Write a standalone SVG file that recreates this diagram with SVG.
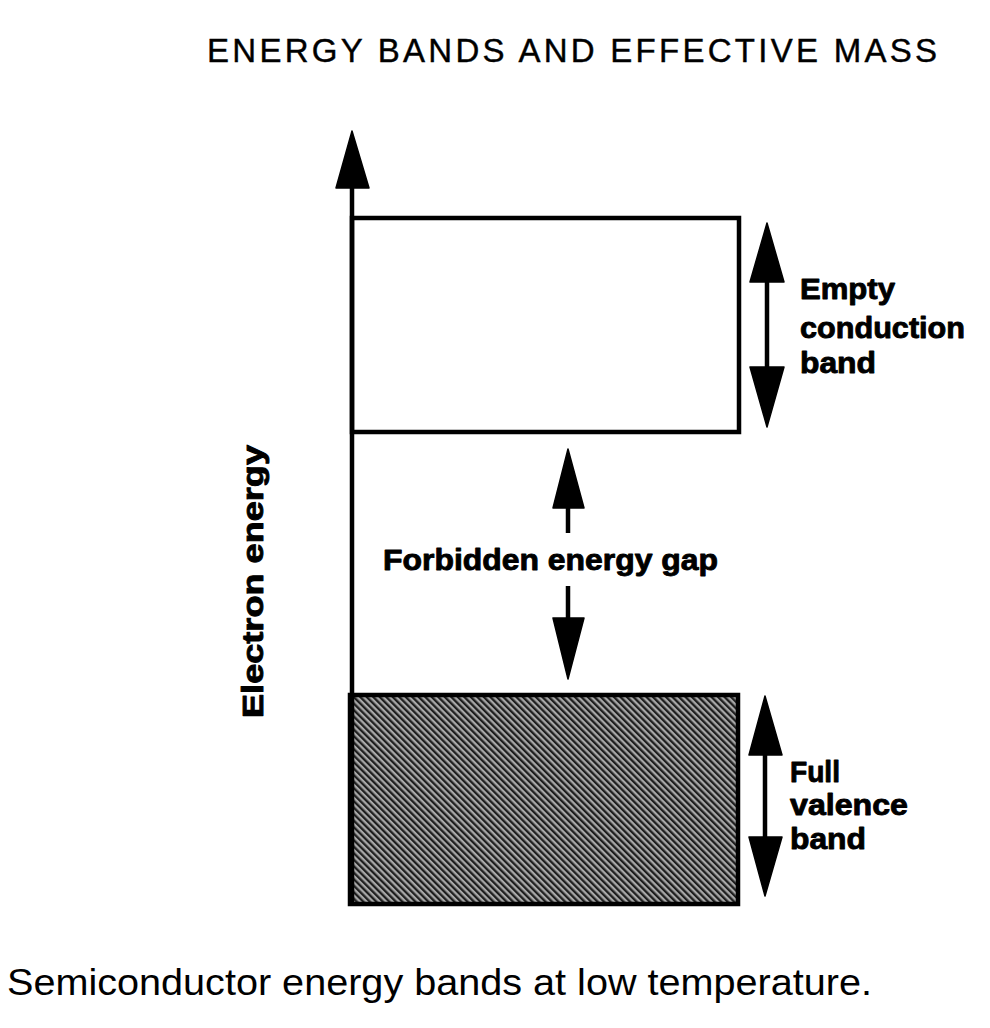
<svg xmlns="http://www.w3.org/2000/svg" width="990" height="1028" viewBox="0 0 990 1028">
  <style>
    .title { font-family: "Liberation Sans", Arial, sans-serif; font-size: 33px; fill: #000; stroke: #000; stroke-width: 0.4; }
    .lbl { font-family: "Liberation Sans", Arial, sans-serif; font-weight: bold; font-size: 30px; fill: #000; stroke: #000; stroke-width: 0.9; stroke-linejoin: round; }
    .cap { font-family: "Liberation Sans", Arial, sans-serif; font-size: 37px; fill: #000; }
    .band { stroke: #000; stroke-width: 4.5; }
    .shaft { stroke: #000; stroke-width: 4.5; fill: none; }
    .head { fill: #000; stroke: #000; stroke-width: 1.5; stroke-linejoin: round; }
  </style>
  <defs>
    <pattern id="hatch" width="4.6" height="20" patternUnits="userSpaceOnUse" patternTransform="rotate(-45)">
      <rect width="4.6" height="20" fill="#a8a8a8"/>
      <rect width="2.3" height="20" fill="#1e1e1e"/>
    </pattern>
  </defs>
  <rect width="990" height="1028" fill="#fff"/>

  <text class="title" x="207" y="62" textLength="730" lengthAdjust="spacing">ENERGY BANDS AND EFFECTIVE MASS</text>

  <g id="conduction-band">
    <rect class="band" x="352" y="218" width="387" height="214" fill="#fff"/>
  </g>
  <g id="valence-band">
    <rect class="band" x="350" y="695" width="388" height="209" fill="url(#hatch)"/>
  </g>

  <g id="connectors">
    <line class="shaft" x1="352" y1="905" x2="352" y2="180"/>
    <polygon class="head" points="352,131 336,188 369,188"/>
    <line class="shaft" x1="767" y1="270" x2="767" y2="380"/>
    <polygon class="head" points="767,223 750,282 784,282"/>
    <polygon class="head" points="767,427 750,367 784,367"/>
    <line class="shaft" x1="568" y1="495" x2="568" y2="533"/>
    <polygon class="head" points="568,449 553,508 584,508"/>
    <line class="shaft" x1="568" y1="586" x2="568" y2="630"/>
    <polygon class="head" points="568,679 553,618 584,618"/>
    <line class="shaft" x1="765" y1="745" x2="765" y2="850"/>
    <polygon class="head" points="765,696 749,755 782,755"/>
    <polygon class="head" points="765,896 749,837 782,837"/>
  </g>

  <g id="label-conduction">
    <text class="lbl" x="800" y="299" textLength="95" lengthAdjust="spacingAndGlyphs">Empty</text>
    <text class="lbl" x="800" y="338" textLength="165" lengthAdjust="spacingAndGlyphs">conduction</text>
    <text class="lbl" x="800" y="373" textLength="76" lengthAdjust="spacingAndGlyphs">band</text>
  </g>
  <g id="label-gap">
    <text class="lbl" x="383" y="570" textLength="335" lengthAdjust="spacingAndGlyphs">Forbidden energy gap</text>
  </g>
  <g id="label-valence">
    <text class="lbl" x="790" y="782" textLength="50" lengthAdjust="spacingAndGlyphs">Full</text>
    <text class="lbl" x="790" y="815" textLength="118" lengthAdjust="spacingAndGlyphs">valence</text>
    <text class="lbl" x="790" y="849" textLength="76" lengthAdjust="spacingAndGlyphs">band</text>
  </g>
  <g id="label-axis">
    <text class="lbl" transform="translate(263,718) rotate(-90)" x="0" y="0" textLength="273" lengthAdjust="spacingAndGlyphs">Electron  energy</text>
  </g>

  <text class="cap" x="7" y="995" textLength="865" lengthAdjust="spacingAndGlyphs">Semiconductor energy bands at low temperature.</text>
</svg>
